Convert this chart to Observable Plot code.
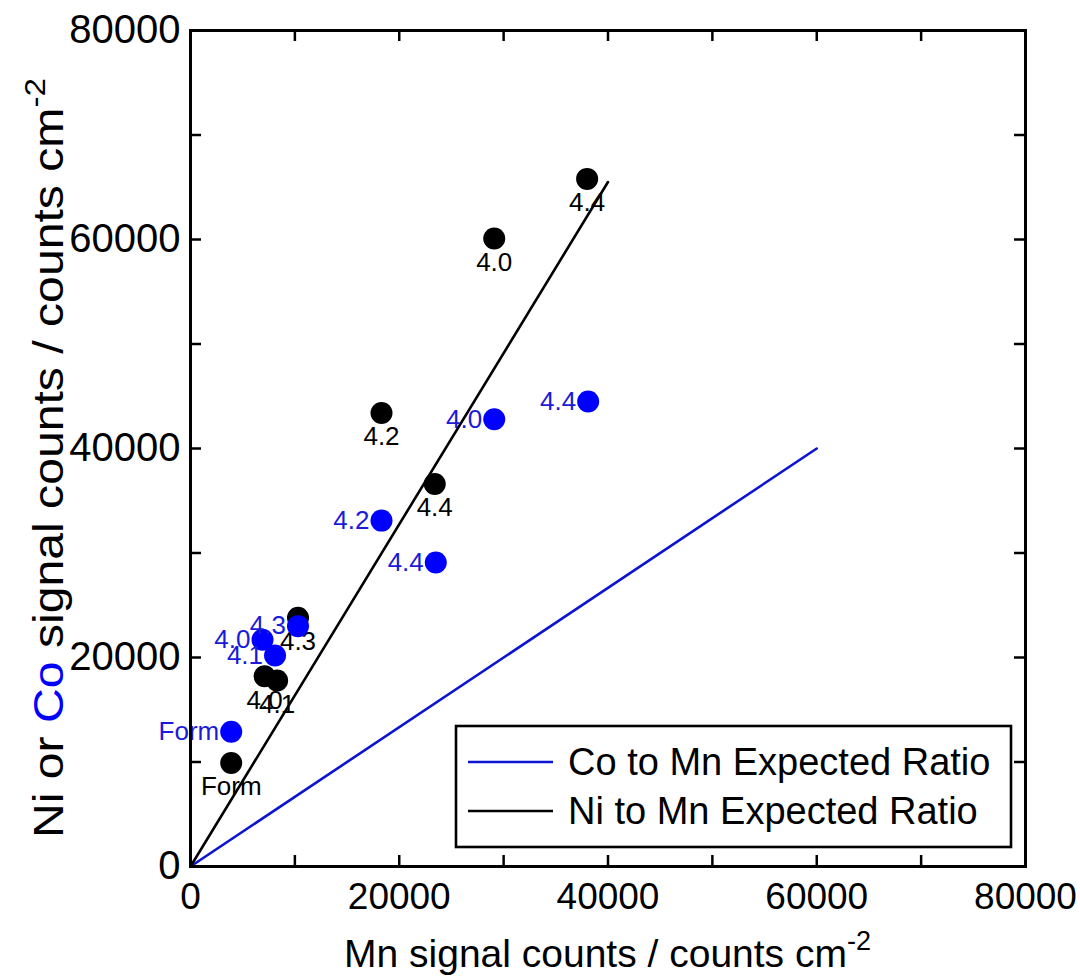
<!DOCTYPE html>
<html>
<head>
<meta charset="utf-8">
<script src="https://cdn.jsdelivr.net/npm/d3@7"></script>
<script src="https://cdn.jsdelivr.net/npm/@observablehq/plot@0.6"></script>
<style>
  html, body { margin: 0; padding: 0; background: #fff; }
  #chart svg { display: block; }
</style>
</head>
<body>
<div id="chart"></div>
<script>
// ---- Data ----
// Ni signal vs Mn signal (black)
const niX = [3900, 7100, 8300, 10300, 18300, 23400, 29100, 38000];
const niY = [9900, 18200, 17800, 23800, 43400, 36600, 60100, 65800];
const niLabels = ["Form", "4.0", "4.1", "4.3", "4.2", "4.4", "4.0", "4.4"];
// Co signal vs Mn signal (blue)
const coX = [3900, 6900, 8100, 10300, 18300, 23500, 29100, 38100];
const coY = [12900, 21700, 20200, 23000, 33100, 29100, 42800, 44500];
const coLabels = ["Form", "4.0", "4.1", "4.3", "4.2", "4.4", "4.0", "4.4"];
// Expected ratio lines
const coLineX = [0, 60000];
const coLineY = [0, 40000];
const niLineX = [0, 40000];
const niLineY = [0, 65500];
// Axis ticks
const majorTicks = [0, 20000, 40000, 60000, 80000];
const minorTicks = [10000, 20000, 30000, 40000, 50000, 60000, 70000];
const legendLabels = ["Co to Mn Expected Ratio", "Ni to Mn Expected Ratio"];

const BLUE = "#0000ff";
const BLUE_LINE = "#0a14d2";
const FONT = "'Liberation Sans', Arial, Helvetica, sans-serif";

const W = 1080, H = 979;
const mL = 190, mR = 55, mT = 30, mB = 113;
const plotW = W - mL - mR, plotH = H - mT - mB;
const tickLen = 11;

const niIdx = d3.range(niX.length);
const coIdx = d3.range(coX.length);

const plot = Plot.plot({
  width: W,
  height: H,
  marginLeft: mL,
  marginRight: mR,
  marginTop: mT,
  marginBottom: mB,
  style: { fontFamily: FONT, fontSize: "37px", background: "#fff", color: "#000" },
  x: { domain: [0, 80000] },
  y: { domain: [0, 80000] },
  marks: [
    // tick marks (inward on all four sides)
    Plot.ruleX(minorTicks, { x: d => d, insetTop: plotH - tickLen, strokeWidth: 2.5, stroke: "#000" }),
    Plot.ruleX(minorTicks, { x: d => d, insetBottom: plotH - tickLen, strokeWidth: 2.5, stroke: "#000" }),
    Plot.ruleY(minorTicks, { y: d => d, insetRight: plotW - tickLen, strokeWidth: 2.5, stroke: "#000" }),
    Plot.ruleY(minorTicks, { y: d => d, insetLeft: plotW - tickLen, strokeWidth: 2.5, stroke: "#000" }),
    // tick labels
    Plot.axisX(majorTicks, { tickSize: 0, tickPadding: 16, tickFormat: d3.format("d"), label: null, fontSize: 37 }),
    Plot.axisY(majorTicks, { tickSize: 0, tickPadding: 10, tickFormat: d3.format("d"), label: null, fontSize: 40 }),
    // expected ratio lines
    Plot.line(d3.range(coLineX.length), { x: i => coLineX[i], y: i => coLineY[i], stroke: BLUE_LINE, strokeWidth: 2.6 }),
    Plot.line(d3.range(niLineX.length), { x: i => niLineX[i], y: i => niLineY[i], stroke: "#000", strokeWidth: 2.6 }),
    // Ni points and labels (below)
    Plot.dot(niIdx, { x: i => niX[i], y: i => niY[i], r: 11, fill: "#000", stroke: "none" }),
    Plot.text(niIdx, { x: i => niX[i], y: i => niY[i], text: i => niLabels[i], dy: 24, fill: "#000", fontSize: 26 }),
    // Co points and labels (left)
    Plot.dot(coIdx, { x: i => coX[i], y: i => coY[i], r: 11, fill: BLUE, stroke: "none" }),
    Plot.text(coIdx, { x: i => coX[i], y: i => coY[i], text: i => coLabels[i], dx: -12, textAnchor: "end", fill: "#1a1ad8", fontSize: 26 }),
    Plot.frame({ stroke: "#000", strokeWidth: 3 })
  ]
});

document.getElementById("chart").appendChild(plot);

// ---- Axis titles and legend added to the SVG ----
const svg = d3.select(plot);
const cx = mL + plotW / 2;

// x title
const xt = svg.append("text")
  .attr("x", cx).attr("y", 967)
  .attr("text-anchor", "middle")
  .attr("font-family", FONT).attr("font-size", 39).attr("fill", "#000");
xt.append("tspan").text("Mn signal counts / counts cm");
xt.append("tspan").attr("font-size", 27).attr("dy", -17).text("-2");

// y title (long, spanning most of the axis, as in the reference)
const yt = svg.append("text")
  .attr("transform", `translate(63,458) rotate(-90)`)
  .attr("text-anchor", "middle")
  .attr("textLength", 760)
  .attr("lengthAdjust", "spacingAndGlyphs")
  .attr("font-family", FONT).attr("font-size", 42).attr("fill", "#000");
yt.append("tspan").text("Ni or ");
yt.append("tspan").attr("fill", BLUE).text("Co");
yt.append("tspan").text(" signal counts / counts cm");
yt.append("tspan").attr("font-size", 29).attr("dy", -18).text("-2");

// legend
const lg = svg.append("g");
lg.append("rect")
  .attr("x", 456).attr("y", 726).attr("width", 1011 - 456).attr("height", 847 - 726)
  .attr("fill", "#fff").attr("stroke", "#000").attr("stroke-width", 2.6);
const legendColors = [BLUE_LINE, "#000"];
const legendY = [762, 811];
legendLabels.forEach((lab, i) => {
  lg.append("line")
    .attr("x1", 468).attr("x2", 553).attr("y1", legendY[i]).attr("y2", legendY[i])
    .attr("stroke", legendColors[i]).attr("stroke-width", 2.6);
  lg.append("text")
    .attr("x", 568).attr("y", legendY[i]).attr("dy", "0.35em")
    .attr("text-anchor", "start")
    .attr("font-family", FONT).attr("font-size", 38).attr("fill", "#000")
    .text(lab);
});
</script>
</body>
</html>
